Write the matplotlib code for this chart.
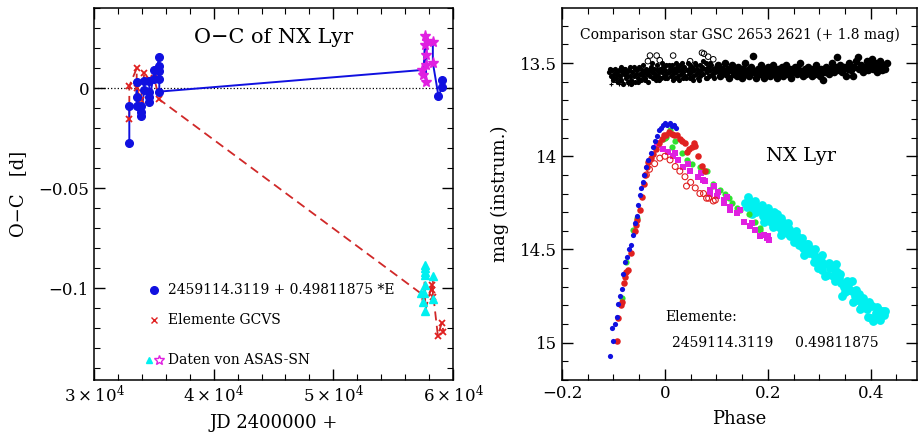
import matplotlib
matplotlib.use('Agg')
import matplotlib.pyplot as plt
from matplotlib.ticker import MultipleLocator, FuncFormatter, FixedLocator
import numpy as np

plt.rcParams['font.family'] = ['DejaVu Serif']
plt.rcParams['mathtext.fontset'] = 'dejavuserif'

# ---- O-C diagram data (JD - 2400000, O-C in days) ----
# own maxima, O-C with new elements (blue) and with GCVS elements (red)
own_jd = [32953, 32953, 33570, 33570, 33570, 33904, 33904, 33904, 34205, 34205,
          34623, 34623, 34623, 34623, 35041, 35041, 35459, 35459, 35459, 35459, 35459]
own_oc_new = [-0.0273, -0.0090, -0.0090, 0.0028, -0.0043, -0.0090, -0.0118, -0.0140, -0.0010, 0.0033,
              0.0033, -0.0018, -0.0043, -0.0068, 0.0088, 0.0043, 0.0155, 0.0108, 0.0083, 0.0043, -0.0018]
gcvs_jd = [32953, 32953, 33570, 33570, 33904, 34205, 34623, 35041, 35459]
gcvs_oc = [-0.0157, 0.0010, 0.0098, 0.0000, -0.0060, 0.0073, 0.0043, 0.0048, -0.0057]

# later maxima (after ASAS-SN)
late_jd = [58785, 59120, 59120]
late_oc_new = [-0.0040, 0.0007, 0.0040]
late_gcvs_jd = [58231, 58231, 58365, 58733, 59067, 59200]
late_gcvs_oc = [-0.0985, -0.1010, -0.1043, -0.1238, -0.1173, -0.1218]

# ASAS-SN maxima
asas_jd = [57394, 57531, 57671, 57671, 57727, 57755, 57755, 57810, 58315, 58315]
asas_oc_new = [0.0090, 0.0065, 0.0260, 0.0215, 0.0032, 0.0165, 0.0115, 0.0237, 0.0232, 0.0127]
asas_g_jd = [57316, 57480, 57592, 57671, 57671, 57671, 57671, 57671, 57671, 58315, 58315]
asas_g_oc = [-0.1027, -0.1068, -0.1027, -0.0885, -0.0900, -0.0920, -0.0935, -0.0985, -0.1115, -0.0940, -0.1057]

# ---- light curve data (phase, instrumental mag) ----
comp_ph = [-0.108, -0.105, -0.103, -0.101, -0.099, -0.097, -0.095, -0.094, -0.092, -0.090,
           -0.088, -0.086, -0.085, -0.083, -0.081, -0.079, -0.077, -0.076, -0.074, -0.072,
           -0.070, -0.068, -0.067, -0.065, -0.063, -0.061, -0.059, -0.058, -0.056, -0.054,
           -0.052, -0.050, -0.049, -0.047, -0.045, -0.043, -0.042, -0.040, -0.038, -0.036,
           -0.034, -0.033, -0.031, -0.029, -0.027, -0.025, -0.024, -0.022, -0.020, -0.018,
           -0.016, -0.015, -0.013, -0.011, -0.009, -0.007, -0.006, -0.004, -0.002, 0.000,
           0.002, 0.003, 0.005, 0.007, 0.009, 0.011, 0.013, 0.014, 0.016, 0.018,
           0.020, 0.022, 0.024, 0.025, 0.027, 0.029, 0.031, 0.033, 0.035, 0.036,
           0.038, 0.040, 0.042, 0.044, 0.046, 0.047, 0.049, 0.051, 0.053, 0.055,
           0.057, 0.058, 0.060, 0.062, 0.064, 0.066, 0.068, 0.069, 0.071, 0.073,
           0.075, 0.077, 0.079, 0.080, 0.082, 0.084, 0.086, 0.088, 0.090, 0.091,
           0.093, 0.095, 0.097, 0.099,
           -0.106, -0.100, -0.093, -0.087, -0.080, -0.073, -0.066, -0.060, -0.053, -0.046,
           -0.039, -0.032, -0.026, -0.019, -0.012, -0.005, 0.001, 0.008, 0.015, 0.021,
           0.028, 0.034, 0.041, 0.048, 0.054, 0.061, 0.067, 0.074, 0.081, 0.087, 0.094]
comp_mag = [13.55, 13.57, 13.54, 13.59, 13.56, 13.53, 13.58, 13.55, 13.60, 13.54,
            13.57, 13.52, 13.59, 13.55, 13.61, 13.56, 13.53, 13.58, 13.55, 13.60,
            13.54, 13.57, 13.52, 13.59, 13.55, 13.57, 13.53, 13.60, 13.56, 13.54,
            13.58, 13.52, 13.56, 13.59, 13.54, 13.57, 13.51, 13.55, 13.58, 13.53,
            13.56, 13.60, 13.54, 13.57, 13.52, 13.55, 13.58, 13.53, 13.56, 13.59,
            13.54, 13.51, 13.57, 13.55, 13.53, 13.58, 13.55, 13.52, 13.57, 13.54,
            13.56, 13.51, 13.58, 13.55, 13.53, 13.57, 13.54, 13.51, 13.56, 13.53,
            13.58, 13.55, 13.52, 13.57, 13.54, 13.51, 13.56, 13.53, 13.58, 13.55,
            13.52, 13.57, 13.54, 13.50, 13.56, 13.53, 13.58, 13.55, 13.52, 13.57,
            13.54, 13.50, 13.56, 13.53, 13.58, 13.55, 13.51, 13.57, 13.54, 13.52,
            13.56, 13.53, 13.58, 13.50, 13.55, 13.52, 13.57, 13.54, 13.51, 13.56,
            13.53, 13.58, 13.55, 13.52,
            13.53, 13.58, 13.56, 13.59, 13.53, 13.57, 13.61, 13.52, 13.60, 13.56,
            13.59, 13.55, 13.50, 13.57, 13.59, 13.50, 13.58, 13.51, 13.59, 13.50,
            13.59, 13.50, 13.58, 13.51, 13.59, 13.51, 13.59, 13.49, 13.58, 13.50, 13.57]
comp2_ph = [0.101, 0.104, 0.107, 0.110, 0.113, 0.116, 0.119, 0.122, 0.125, 0.128,
            0.131, 0.134, 0.137, 0.140, 0.143, 0.146, 0.149, 0.152, 0.155, 0.158,
            0.161, 0.164, 0.167, 0.171, 0.174, 0.177, 0.180, 0.183, 0.186, 0.189,
            0.192, 0.195, 0.198, 0.201, 0.205, 0.208, 0.211, 0.214, 0.217, 0.220,
            0.224, 0.227, 0.230, 0.233, 0.236, 0.239, 0.243, 0.246, 0.249, 0.252,
            0.256, 0.259, 0.262, 0.265, 0.268, 0.272, 0.275, 0.278, 0.281, 0.285,
            0.288, 0.291, 0.294, 0.297, 0.301, 0.304, 0.308, 0.311, 0.314, 0.318,
            0.321, 0.324, 0.328, 0.331, 0.335, 0.338, 0.341, 0.345, 0.348, 0.352,
            0.355, 0.358, 0.362, 0.365, 0.368, 0.372, 0.375, 0.378, 0.382, 0.385,
            0.388, 0.392, 0.395, 0.398, 0.402, 0.405, 0.408, 0.412, 0.415, 0.418,
            0.422, 0.425, 0.428, 0.431]
comp2_mag = [13.54, 13.51, 13.57, 13.53, 13.55, 13.50, 13.56, 13.53, 13.58, 13.54,
             13.51, 13.56, 13.53, 13.57, 13.52, 13.55, 13.58, 13.53, 13.50, 13.56,
             13.54, 13.57, 13.52, 13.46, 13.55, 13.58, 13.53, 13.56, 13.51, 13.55,
             13.58, 13.53, 13.56, 13.52, 13.57, 13.54, 13.51, 13.56, 13.58, 13.53,
             13.55, 13.52, 13.57, 13.54, 13.51, 13.56, 13.53, 13.58, 13.55, 13.52,
             13.56, 13.53, 13.50, 13.55, 13.57, 13.53, 13.56, 13.52, 13.55, 13.57,
             13.53, 13.56, 13.51, 13.54, 13.57, 13.53, 13.59, 13.55, 13.52, 13.56,
             13.53, 13.50, 13.55, 13.52, 13.47, 13.54, 13.51, 13.55, 13.52, 13.57,
             13.53, 13.50, 13.54, 13.57, 13.52, 13.49, 13.47, 13.53, 13.51, 13.55,
             13.52, 13.49, 13.54, 13.51, 13.48, 13.53, 13.50, 13.55, 13.52, 13.49,
             13.54, 13.51, 13.53, 13.50]
comp_x_ph = [-0.104, -0.096, -0.089, -0.082, -0.071, -0.062, -0.053]
comp_x_mag = [13.61, 13.60, 13.615, 13.60, 13.61, 13.605, 13.60]
comp_open_ph = [-0.033, -0.029, -0.016, -0.010, 0.016, 0.049, 0.072, 0.076, 0.084, 0.094]
comp_open_mag = [13.49, 13.46, 13.46, 13.485, 13.46, 13.49, 13.445, 13.45, 13.466, 13.48]

blue_ph = [-0.107, -0.102, -0.100, -0.097, -0.094, -0.091, -0.088, -0.084, -0.081, -0.078,
           -0.074, -0.069, -0.065, -0.062, -0.058, -0.055, -0.052, -0.049, -0.046, -0.043,
           -0.040, -0.036, -0.032, -0.028, -0.024, -0.020, -0.016, -0.011, -0.007, -0.003,
           0.001, 0.005, 0.009, 0.013, 0.017, 0.021]
blue_mag = [15.07, 14.92, 14.99, 14.90, 14.86, 14.79, 14.75, 14.71, 14.63, 14.565,
            14.54, 14.50, 14.475, 14.42, 14.36, 14.32, 14.26, 14.21, 14.17, 14.14,
            14.10, 14.06, 14.02, 13.98, 13.95, 13.92, 13.89, 13.86, 13.85, 13.83,
            13.82, 13.83, 13.82, 13.84, 13.83, 13.85]
red_ph = [-0.094, -0.091, -0.086, -0.084, -0.079, -0.078, -0.075, -0.072, -0.066, -0.059,
          -0.057, -0.055, -0.049, -0.045, -0.041, -0.038, -0.035, -0.033, -0.028, -0.023,
          -0.017, -0.011, -0.006, -0.002, 0.003, 0.008, 0.013, 0.018, 0.023, 0.029,
          0.034, 0.039, 0.042, 0.047, 0.052, 0.056, 0.058, 0.065, 0.072, 0.078]
red_mag = [14.99, 14.87, 14.80, 14.78, 14.68, 14.645, 14.62, 14.61, 14.52, 14.40,
           14.37, 14.34, 14.29, 14.22, 14.15, 14.10, 14.06, 14.03, 14.01, 13.99,
           13.96, 13.93, 13.91, 13.885, 13.885, 13.87, 13.88, 13.885, 13.885, 13.91,
           13.92, 13.93, 13.975, 13.96, 13.95, 13.93, 13.945, 14.00, 14.05, 14.08]
redo_ph = [-0.036, -0.030, -0.020, -0.010, 0.000, 0.010, 0.020, 0.029, 0.039, 0.042,
           0.050, 0.059, 0.068, 0.075, 0.081, 0.085, 0.094, 0.098]
redo_mag = [14.10, 14.07, 14.04, 14.01, 14.00, 14.02, 14.055, 14.08, 14.11, 14.16,
            14.14, 14.17, 14.20, 14.20, 14.225, 14.225, 14.24, 14.235]
green_ph = [-0.083, -0.076, -0.062, -0.055, -0.003, 0.000, 0.003, 0.010, 0.013, 0.020,
            0.033, 0.042, 0.052, 0.068, 0.078, 0.081, 0.094, 0.094, 0.107, 0.117,
            0.124, 0.130, 0.140, 0.146, 0.163, 0.176, 0.185, 0.185]
green_mag = [14.76, 14.565, 14.395, 14.33, 13.91, 13.90, 13.895, 13.86, 13.95, 13.92,
             13.98, 14.02, 14.04, 14.055, 14.08, 14.08, 14.15, 14.16, 14.18, 14.20,
             14.225, 14.25, 14.28, 14.29, 14.31, 14.35, 14.385, 14.395]
mag_ph = [-0.016, -0.013, -0.003, 0.006, 0.016, 0.020, 0.026, 0.036, 0.045, 0.049,
          0.065, 0.070, 0.075, 0.078, 0.088, 0.088, 0.095, 0.101, 0.104, 0.114,
          0.114, 0.120, 0.127, 0.127, 0.140, 0.145, 0.153, 0.166, 0.170, 0.176,
          0.185, 0.192, 0.198, 0.200, 0.202]
mag_mag = [13.94, 13.93, 13.96, 13.975, 14.00, 13.98, 14.02, 14.055, 14.04, 14.08,
           14.11, 14.09, 14.125, 14.135, 14.18, 14.20, 14.16, 14.215, 14.19, 14.25,
           14.235, 14.22, 14.27, 14.29, 14.305, 14.29, 14.35, 14.375, 14.36, 14.395,
           14.43, 14.42, 14.44, 14.43, 14.45]
cyan_ph = [0.155, 0.159, 0.165, 0.170, 0.172, 0.178, 0.183, 0.185, 0.190, 0.195,
           0.198, 0.203, 0.207, 0.211, 0.215, 0.218, 0.222, 0.224, 0.228, 0.231,
           0.235, 0.237, 0.242, 0.244, 0.248, 0.252, 0.256, 0.260, 0.263, 0.268,
           0.273, 0.276, 0.280, 0.284, 0.289, 0.289, 0.294, 0.299, 0.303, 0.306,
           0.310, 0.316, 0.320, 0.326, 0.332, 0.335, 0.338, 0.343, 0.345, 0.348,
           0.353, 0.358, 0.364, 0.364, 0.369, 0.374, 0.378, 0.383, 0.387, 0.392,
           0.398, 0.400, 0.403, 0.405, 0.410, 0.416, 0.420, 0.423, 0.426,
           0.162, 0.175, 0.188, 0.200, 0.213, 0.226, 0.240, 0.254, 0.266, 0.279,
           0.292, 0.305, 0.318, 0.330, 0.341, 0.356, 0.371, 0.385, 0.396, 0.412, 0.428,
           0.170, 0.193, 0.210, 0.226, 0.250, 0.270, 0.297, 0.312, 0.330, 0.350,
           0.366, 0.380, 0.395, 0.410, 0.418]
cyan_mag = [14.25, 14.27, 14.24, 14.28, 14.26, 14.30, 14.27, 14.29, 14.32, 14.29,
            14.33, 14.31, 14.35, 14.33, 14.36, 14.31, 14.38, 14.35, 14.40, 14.36,
            14.38, 14.41, 14.39, 14.43, 14.41, 14.45, 14.43, 14.475, 14.46, 14.49,
            14.50, 14.47, 14.52, 14.50, 14.53, 14.565, 14.54, 14.57, 14.56, 14.61,
            14.58, 14.635, 14.60, 14.64, 14.58, 14.62, 14.655, 14.68, 14.75, 14.70,
            14.67, 14.72, 14.67, 14.725, 14.75, 14.77, 14.74, 14.80, 14.795, 14.82,
            14.80, 14.87, 14.805, 14.885, 14.84, 14.825, 14.85, 14.83, 14.85,
            14.22, 14.24, 14.26, 14.28, 14.30, 14.33, 14.36, 14.40, 14.44, 14.47,
            14.50, 14.53, 14.57, 14.61, 14.63, 14.69, 14.72, 14.76, 14.78, 14.81, 14.83,
            14.31, 14.35, 14.38, 14.42, 14.46, 14.53, 14.60, 14.64, 14.67, 14.73,
            14.78, 14.82, 14.86, 14.87, 14.88]

BLUE = '#1010e0'
RED = '#e02020'
CYAN = '#00f0f0'
MAGENTA = '#e020e0'
GREEN = '#30e030'

fig = plt.figure(figsize=(9.23, 4.33), dpi=100)
ax1 = fig.add_axes([0.1018, 0.1224, 0.3890, 0.8591])
ax2 = fig.add_axes([0.6089, 0.1224, 0.3846, 0.8591])

# ---------- left: O-C ----------
ax1.axhline(0, color='k', ls=':', lw=0.9)

# lines in time order
line_new = sorted(zip(own_jd + asas_jd + late_jd, own_oc_new + asas_oc_new + late_oc_new),
                  key=lambda p: p[0])
line_g = sorted(zip(gcvs_jd + asas_g_jd + late_gcvs_jd, gcvs_oc + asas_g_oc + late_gcvs_oc),
                key=lambda p: p[0])
ax1.plot([p[0] for p in line_g], [p[1] for p in line_g], color='#d02828', ls='--', lw=1.3, dashes=(5, 3))
ax1.plot([p[0] for p in line_new], [p[1] for p in line_new], color=BLUE, lw=1.4)

ax1.plot(gcvs_jd + late_gcvs_jd, gcvs_oc + late_gcvs_oc, 'x', color=RED, ms=5, mew=1.3)
ax1.plot(own_jd + late_jd, own_oc_new + late_oc_new, 'o', color=BLUE, ms=5.5)
ax1.plot(asas_g_jd, asas_g_oc, '^', color=CYAN, ms=5.5)
ax1.plot(asas_jd, asas_oc_new, '*', color=MAGENTA, ms=8)

ax1.set_xlim(30000, 60000)
ax1.set_ylim(-0.146, 0.04)
ax1.xaxis.set_major_locator(FixedLocator([30000, 40000, 50000, 60000]))
ax1.xaxis.set_minor_locator(MultipleLocator(2000))
ax1.xaxis.set_major_formatter(FuncFormatter(lambda v, p: r'$%d\times10^4$' % round(v / 10000)))
ax1.yaxis.set_major_locator(MultipleLocator(0.05))
ax1.yaxis.set_minor_locator(MultipleLocator(0.01))
ax1.yaxis.set_major_formatter(FuncFormatter(lambda v, p: '0' if abs(v) < 1e-9 else ('%g' % v).replace('-', '\u2212')))

ax1.text(45000, 0.0255, 'O\u2212C of NX Lyr', ha='center', va='center', fontsize=15)
ax1.plot([35016], [-0.101], 'o', color=BLUE, ms=5.5)
ax1.text(36186, -0.101, '2459114.3119 + 0.49811875 *E', va='center', fontsize=10)
ax1.plot([35016], [-0.116], 'x', color=RED, ms=4, mew=1)
ax1.text(36186, -0.116, 'Elemente GCVS', va='center', fontsize=10)
ax1.plot([34623], [-0.136], '^', color=CYAN, ms=5)
ax1.plot([35459], [-0.136], '*', color=MAGENTA, ms=7, mfc='none', mew=1)
ax1.text(36186, -0.136, 'Daten von ASAS-SN', va='center', fontsize=10)

ax1.set_xlabel('JD 2400000 +', fontsize=13, labelpad=6)
ax1.set_ylabel('O\u2212C   [d]', fontsize=13, labelpad=8)

# ---------- right: light curve ----------
ax2.scatter(comp_ph, comp_mag, s=14, color='k', lw=0)
ax2.scatter(comp2_ph, comp2_mag, s=30, color='k', lw=0)
ax2.plot(comp_x_ph, comp_x_mag, '+', color='k', ms=3, mew=0.8)
ax2.scatter(comp_open_ph, comp_open_mag, s=16, facecolors='none', edgecolors='k', lw=0.7)

ax2.scatter(cyan_ph, cyan_mag, s=40, color=CYAN, lw=0)
ax2.scatter(green_ph, green_mag, s=20, color=GREEN, lw=0)
ax2.scatter(mag_ph, mag_mag, s=16, color=MAGENTA, lw=0, marker='s')
ax2.scatter(redo_ph, redo_mag, s=18, facecolors='none', edgecolors=RED, lw=0.8)
ax2.scatter(red_ph, red_mag, s=22, color=RED, lw=0)
ax2.scatter(blue_ph, blue_mag, s=14, color=BLUE, lw=0)

ax2.set_xlim(-0.2, 0.49)
ax2.set_ylim(15.2, 13.205)
ax2.xaxis.set_major_locator(MultipleLocator(0.2))
ax2.xaxis.set_minor_locator(MultipleLocator(0.05))
ax2.yaxis.set_major_locator(MultipleLocator(0.5))
ax2.yaxis.set_minor_locator(MultipleLocator(0.1))
ax2.xaxis.set_major_formatter(FuncFormatter(lambda v, p: '0' if abs(v) < 1e-9 else ('%g' % round(v, 2)).replace('-', '\u2212')))
ax2.yaxis.set_major_formatter(FuncFormatter(lambda v, p: '%g' % round(v, 2)))

ax2.text(0.145, 13.35, 'Comparison star GSC 2653 2621 (+ 1.8 mag)', ha='center', va='center', fontsize=10)
ax2.text(0.265, 14.0, 'NX Lyr', ha='center', va='center', fontsize=14)
ax2.text(0.0, 14.86, 'Elemente:', va='center', fontsize=10)
ax2.text(0.013, 15.0, '2459114.3119     0.49811875', va='center', fontsize=10)

ax2.set_xlabel('Phase', fontsize=13, labelpad=6)
ax2.set_ylabel('mag (instrum.)', fontsize=13, labelpad=8)

for ax in (ax1, ax2):
    ax.tick_params(which='both', direction='in', top=True, right=True, labelsize=12)
    ax.tick_params(which='major', length=8, width=1)
    ax.tick_params(which='minor', length=4, width=0.8)
    for s in ax.spines.values():
        s.set_linewidth(1.1)

fig.savefig('out.png', dpi=100)
